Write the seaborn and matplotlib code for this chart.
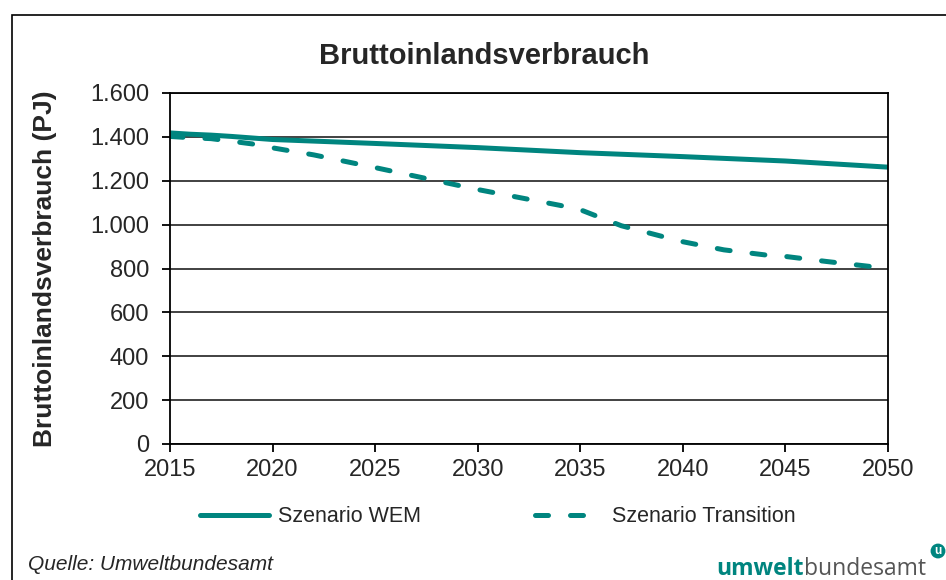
import pandas as pd
import matplotlib.pyplot as plt
import seaborn as sns
from matplotlib.patches import Rectangle
from matplotlib.ticker import FixedLocator, FixedFormatter

sns.set_style('white')
plt.rcParams['font.family'] = ['Liberation Sans', 'DejaVu Sans']

# values (PJ)
series_names = ['Szenario WEM', 'Szenario Transition']
wem_years = [2015, 2016, 2017, 2018, 2020, 2025, 2030, 2035, 2040, 2045, 2050]
wem_values = [1418, 1412, 1408, 1402, 1388, 1370, 1351, 1328, 1310, 1290, 1262]
trans_years = [2015, 2016, 2017, 2018, 2019, 2020, 2022, 2025, 2030, 2034, 2035,
               2037, 2039, 2040, 2042, 2044, 2045, 2047, 2050]
trans_values = [1402, 1396, 1392, 1380, 1368, 1350, 1318, 1260, 1160, 1088, 1068,
                995, 946, 922, 885, 862, 855, 832, 800]
x_ticks = [2015, 2020, 2025, 2030, 2035, 2040, 2045, 2050]
y_ticks = [0, 200, 400, 600, 800, 1000, 1200, 1400, 1600]
y_tick_labels = ['0', '200', '400', '600', '800', '1.000', '1.200', '1.400', '1.600']

teal = '#00857F'

df = pd.concat([
    pd.DataFrame({'Jahr': wem_years, 'PJ': wem_values, 'Szenario': series_names[0]}),
    pd.DataFrame({'Jahr': trans_years, 'PJ': trans_values, 'Szenario': series_names[1]}),
])

fig = plt.figure(figsize=(9.46, 5.8), dpi=100)
ax = fig.add_axes([170 / 946, 1 - 444 / 580, 718 / 946, 351 / 580])

sns.lineplot(data=df, x='Jahr', y='PJ', hue='Szenario', style='Szenario',
             palette=[teal, teal],
             dashes={series_names[0]: '', series_names[1]: (2.6, 4.4)},
             linewidth=3.6, ax=ax, legend=False)
for line in ax.lines:
    line.set_dash_capstyle('round')

ax.set_xlim(2015, 2050)
ax.set_ylim(0, 1600)
ax.xaxis.set_major_locator(FixedLocator(x_ticks))
ax.yaxis.set_major_locator(FixedLocator(y_ticks))
ax.yaxis.set_major_formatter(FixedFormatter(y_tick_labels))
ax.yaxis.grid(True, color='#333333', linewidth=1.3)
ax.set_axisbelow(True)
for sp in ax.spines.values():
    sp.set_color('black')
    sp.set_linewidth(1.3)
ax.tick_params(axis='both', which='major', bottom=True, left=True, direction='out',
               length=6, width=1.3, color='black', labelsize=17)
ax.tick_params(axis='y', pad=9)
ax.tick_params(axis='x', pad=5)

ax.set_xlabel('')
ax.set_ylabel('Bruttoinlandsverbrauch (PJ)', fontsize=19, fontweight='bold')
ax.yaxis.set_label_coords(-0.158, 0.5)

fig.text(484 / 946, 1 - 56 / 580, 'Bruttoinlandsverbrauch', ha='center', va='center',
         fontsize=21, fontweight='bold')

ax.legend(handles=ax.lines[:2], labels=series_names, loc='center',
          bbox_to_anchor=(498 / 946, 1 - 517 / 580), bbox_transform=fig.transFigure,
          ncol=2, frameon=False, fontsize=15.5, handlelength=3.2,
          columnspacing=5.3, handletextpad=0.4)

fig.text(28 / 946, 1 - 565 / 580, 'Quelle: Umweltbundesamt', style='italic',
         fontsize=15, va='center')

# logo
fig.text(804 / 946, 1 - 575 / 580, 'umwelt', ha='right', va='baseline',
         fontsize=16.5, fontweight='bold', color=teal, family='Open Sans')
fig.text(804 / 946, 1 - 575 / 580, 'bundesamt', ha='left', va='baseline',
         fontsize=16.5, color='#555555', family='Open Sans')
fig.text(938 / 946, 1 - 551 / 580, 'u', ha='center', va='center', color='white',
         fontsize=8.5, fontweight='bold',
         bbox=dict(boxstyle='circle,pad=0.12', fc=teal, ec='none'))

# outer frame
fig.patches.append(Rectangle((12 / 946, -0.2), 1.2, 0.2 + 1 - 15 / 580,
                             transform=fig.transFigure, fill=False,
                             edgecolor='black', linewidth=1.2))

fig.savefig('out.png', dpi=100)
